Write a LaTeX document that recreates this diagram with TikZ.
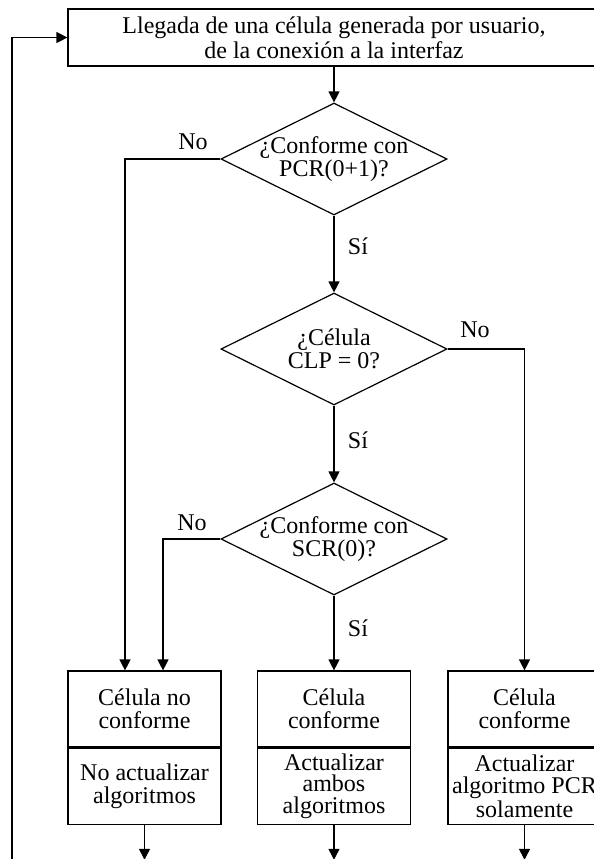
\documentclass[tikz,border=0pt]{standalone}
\usepackage{fontspec}
\setmainfont{Liberation Serif}
\usepackage{tikz}
\usetikzlibrary{shapes.geometric,arrows.meta,positioning}
\tikzstyle{txt}=[align=center,inner sep=0pt,font=\fontsize{12}{11.5}\selectfont]
\tikzstyle{start}=[rectangle,draw=black,line width=0.6pt,
  minimum width=266pt,minimum height=28.5pt,style=txt,
  font=\fontsize{12}{12.5}\selectfont]
\tikzstyle{dec}=[diamond,draw=black,line width=0.6pt,inner sep=0pt,
  minimum width=113pt,minimum height=56pt]
\tikzstyle{res}=[rectangle,draw=black,line width=0.6pt,
  minimum width=76.5pt,minimum height=38pt,style=txt]
\tikzstyle{res3}=[style=res,font=\fontsize{12}{10.9}\selectfont]
\tikzstyle{arr}=[line width=0.6pt,-{Triangle[length=5.5pt,width=5.5pt]}]
\tikzstyle{lbl}=[style=txt]

\begin{document}
\begin{tikzpicture}[x=0.5pt,y=-0.5pt]
    \useasboundingbox (0,0) rectangle (594,859);
    \node [style=start] (top) at (334,37.5) {Llegada de una célula generada por usuario,\\de la conexión a la interfaz};
    \node [style=dec] (d1) at (334,159) {};
    \node [style=txt] (d1t) at (d1) {¿Conforme con\\PCR(0+1)?};
    \node [style=dec] (d2) at (334,349) {};
    \node [style=txt] (d2t) at (d2) {¿Célula\\CLP = 0?};
    \node [style=dec] (d3) at (334,539) {};
    \node [style=txt] (d3t) at (d3) {¿Conforme con\\SCR(0)?};
    \node [style=res] (c1) at (144.5,709) {Célula no\\conforme};
    \node [style=res, below=0pt of c1] (a1) {No actualizar\\algoritmos};
    \node [style=res] (c2) at (334,709) {Célula\\conforme};
    \node [style=res3, below=0pt of c2] (a2) {Actualizar\\ambos\\algoritmos};
    \node [style=res] (c3) at (524.5,709) {Célula\\conforme};
    \node [style=res3, below=0pt of c3] (a3) {Actualizar\\algoritmo PCR\\solamente};
    \node [style=lbl] (no1) at (193,142) {No};
    \node [style=lbl] (si1) at (358,246) {Sí};
    \node [style=lbl] (no2) at (475,330) {No};
    \node [style=lbl] (si2) at (358,440) {Sí};
    \node [style=lbl] (no3) at (192,523) {No};
    \node [style=lbl] (si3) at (358,628) {Sí};
    \coordinate (in1) at ([xshift=-9.75pt]c1.north);
    \coordinate (in2) at ([xshift=9.25pt]c1.north);
    \coordinate (o1) at ([yshift=-17.5pt]a1.south);
    \coordinate (o2) at ([yshift=-17.5pt]a2.south);
    \coordinate (o3) at ([yshift=-17.5pt]a3.south);
    \coordinate (loop) at (12,859);
    \draw [style=arr] (top) to (d1);
    \draw [style=arr] (d1.west) -| (in1);
    \draw [style=arr] (d1) to (d2);
    \draw [style=arr] (d2.east) -| (c3.north);
    \draw [style=arr] (d2) to (d3);
    \draw [style=arr] (d3.west) -| (in2);
    \draw [style=arr] (d3) to (c2);
    \draw [style=arr] (a1) to (o1);
    \draw [style=arr] (a2) to (o2);
    \draw [style=arr] (a3) to (o3);
    \draw [style=arr] (loop) |- (top.west);
  \end{tikzpicture}
\end{document}
